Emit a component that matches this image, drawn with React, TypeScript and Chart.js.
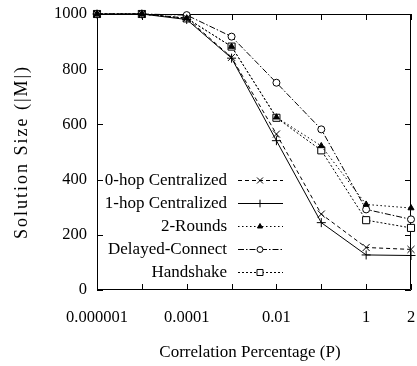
import React, { useEffect, useRef } from "react";
import { Chart, registerables } from "chart.js";
import { drawPoint } from "chart.js/helpers";

Chart.register(...registerables);

// Correlation percentage values, evenly spaced along the x axis
const categories = ["0.000001", "0.00001", "0.0001", "0.001", "0.01", "0.1", "1", "2"];
const tickLabels = ["0.000001", "", "0.0001", "", "0.01", "", "1", "2"];

const zeroHop = [1000, 1000, 985, 843, 565, 275, 154, 147];
const oneHop = [1000, 1000, 980, 840, 541, 244, 127, 125];
const twoRounds = [1000, 1000, 985, 882, 626, 522, 310, 297];
const delayedConnect = [1000, 1000, 996, 918, 751, 582, 292, 256];
const handshake = [1000, 1000, 984, 882, 624, 506, 253, 225];

const yTicks = [0, 200, 400, 600, 800, 1000];

const FONT = "'Liberation Serif', 'Times New Roman', serif";

const toPoints = (vals: number[]) => vals.map((v, i) => ({ x: i, y: v }));

// Scales keep a fixed size and add no extra room for overhanging labels
const fixScale = (size: { width?: number; height?: number }) => (s: any) => {
  if (size.width !== undefined) s.width = size.width;
  if (size.height !== undefined) s.height = size.height;
  s.paddingTop = 0;
  s.paddingBottom = 0;
  s.paddingLeft = 0;
  s.paddingRight = 0;
};

const frameAndTicks = {
  id: "frameAndTicks",
  beforeDatasetsDraw(chart: any) {
    const { ctx, chartArea: a, scales } = chart;
    const len = 6;
    ctx.save();
    ctx.strokeStyle = "#000";
    ctx.lineWidth = 1;
    ctx.setLineDash([]);
    ctx.beginPath();
    ctx.rect(a.left + 0.5, a.top + 0.5, a.right - a.left - 1, a.bottom - a.top - 1);
    for (let i = 0; i < categories.length; i++) {
      const x = Math.round(scales.x.getPixelForValue(i)) + 0.5;
      ctx.moveTo(x, a.bottom);
      ctx.lineTo(x, a.bottom - len);
      ctx.moveTo(x, a.top);
      ctx.lineTo(x, a.top + len);
    }
    for (const t of yTicks) {
      const y = Math.round(scales.y.getPixelForValue(t)) + 0.5;
      ctx.moveTo(a.left, y);
      ctx.lineTo(a.left + len, y);
      ctx.moveTo(a.right, y);
      ctx.lineTo(a.right - len, y);
    }
    ctx.stroke();

    // axis titles
    ctx.fillStyle = "#000";
    ctx.font = `17px ${FONT}`;
    ctx.textAlign = "center";
    ctx.textBaseline = "middle";
    ctx.fillText("Correlation Percentage (P)", 250, 353);
    ctx.save();
    ctx.translate(22, 152);
    ctx.rotate(-Math.PI / 2);
    ctx.font = `18px ${FONT}`;
    (ctx as any).letterSpacing = "2px";
    ctx.fillText("Solution Size (|M|)", 0, 0);
    ctx.restore();
    ctx.restore();
  },
  afterDraw(chart: any) {
    const { ctx } = chart;
    ctx.save();
    chart.data.datasets.forEach((ds: any, i: number) => {
      const y = Math.round(180 + i * 23.1) + 0.5;
      ctx.fillStyle = "#000";
      ctx.font = `17px ${FONT}`;
      ctx.textAlign = "right";
      ctx.textBaseline = "middle";
      ctx.fillText(ds.label, 227, y);
      ctx.strokeStyle = "#000";
      ctx.lineWidth = 1;
      ctx.setLineDash(ds.borderDash || []);
      ctx.beginPath();
      ctx.moveTo(238, y);
      ctx.lineTo(283, y);
      ctx.stroke();
      ctx.setLineDash([]);
      ctx.fillStyle = ds.pointBackgroundColor;
      drawPoint(ctx, { pointStyle: ds.pointStyle, radius: ds.pointRadius * 0.85, borderWidth: 1, rotation: 0 } as any, 260, y);
    });
    ctx.restore();
  },
};

const series = [
  { label: "0-hop Centralized", data: zeroHop, dash: [4, 3], style: "crossRot", r: 5, fill: "#000" },
  { label: "1-hop Centralized", data: oneHop, dash: [], style: "cross", r: 4.5, fill: "#000" },
  { label: "2-Rounds", data: twoRounds, dash: [1.5, 2.5], style: "triangle", r: 3.5, fill: "#000" },
  { label: "Delayed-Connect", data: delayedConnect, dash: [6, 2, 1.5, 2], style: "circle", r: 3.5, fill: "#fff" },
  { label: "Handshake", data: handshake, dash: [2, 2], style: "rect", r: 5, fill: "#fff" },
];

export default function App() {
  const ref = useRef<HTMLCanvasElement>(null);

  useEffect(() => {
    document.body.style.margin = "0";
    const canvas = ref.current;
    if (!canvas) return;
    const chart = new Chart(canvas, {
      type: "line",
      data: {
        datasets: series.map((s) => ({
          label: s.label,
          data: toPoints(s.data),
          borderColor: "#000",
          borderWidth: 1,
          borderDash: s.dash,
          pointStyle: s.style,
          pointRadius: s.r,
          pointBorderColor: "#000",
          pointBackgroundColor: s.fill,
          pointBorderWidth: 1,
          fill: false,
          tension: 0,
          clip: false,
        })) as any,
      },
      plugins: [frameAndTicks],
      options: {
        responsive: false,
        animation: false,
        devicePixelRatio: 1,
        layout: { padding: { top: 14, right: 4, left: 0, bottom: 0 } },
        plugins: { legend: { display: false }, tooltip: { enabled: false } },
        scales: {
          x: {
            type: "linear",
            min: 0,
            max: categories.length - 1,
            border: { display: false },
            grid: { display: false, drawTicks: false },
            afterFit: fixScale({ height: 76 }),
            ticks: {
              stepSize: 1,
              autoSkip: false,
              maxRotation: 0,
              padding: 18,
              color: "#000",
              font: { family: FONT, size: 16.5 },
              callback: (v: any) => tickLabels[v] ?? "",
            },
          },
          y: {
            min: 0,
            max: 1000,
            border: { display: false },
            grid: { display: false, drawTicks: false },
            afterFit: fixScale({ width: 97 }),
            ticks: {
              stepSize: 200,
              padding: 10,
              color: "#000",
              font: { family: FONT, size: 16.5 },
              callback: (v: any) => String(v),
            },
          },
        },
      },
    });
    return () => chart.destroy();
  }, []);

  return <canvas ref={ref} width={417} height={366} style={{ display: "block", width: 417, height: 366 }} />;
}
